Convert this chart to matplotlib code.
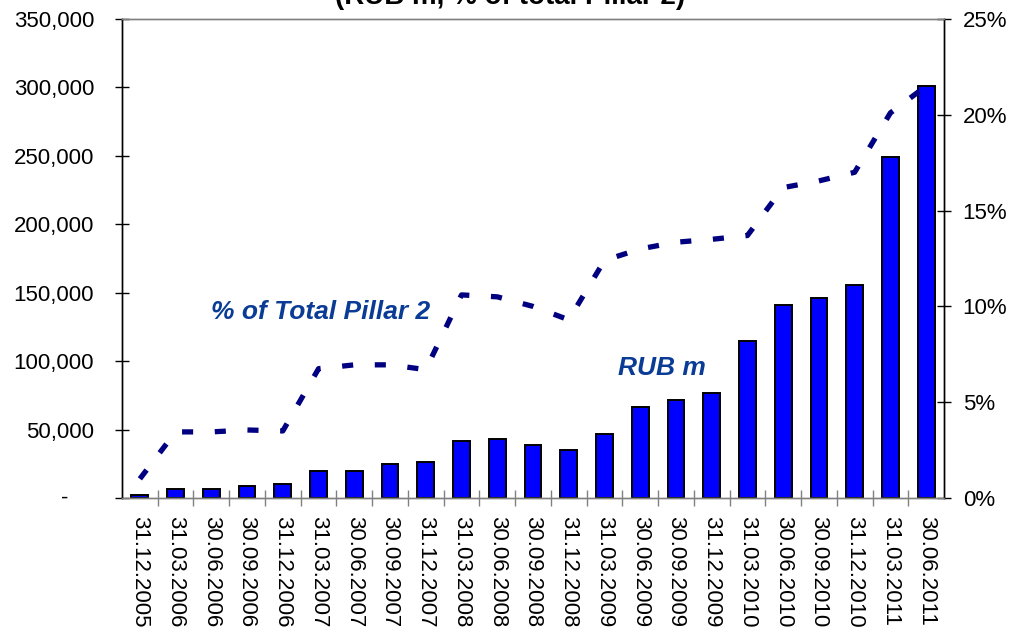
import matplotlib
matplotlib.use("Agg")
import matplotlib.pyplot as plt
from matplotlib.ticker import FuncFormatter, FixedLocator

plt.rcParams["font.family"] = ["Liberation Sans", "DejaVu Sans"]

# ------------------------------------------------------------------
# Data
# ------------------------------------------------------------------
dates = [
    "31.12.2005", "31.03.2006", "30.06.2006", "30.09.2006", "31.12.2006",
    "31.03.2007", "30.06.2007", "30.09.2007", "31.12.2007", "31.03.2008",
    "30.06.2008", "30.09.2008", "31.12.2008", "31.03.2009", "30.06.2009",
    "30.09.2009", "31.12.2009", "31.03.2010", "30.06.2010", "30.09.2010",
    "31.12.2010", "31.03.2011", "30.06.2011",
]
rub_m = [
    2500, 6300, 6300, 8800, 10000,
    19500, 19500, 24600, 26100, 41400,
    43100, 38700, 35100, 46800, 66700,
    71600, 77000, 114700, 141000, 146400,
    155400, 248900, 301300,
]
pct_pillar2 = [
    1.0, 3.45, 3.45, 3.55, 3.5,
    6.75, 6.95, 6.95, 6.7, 10.6,
    10.5, 10.0, 9.3, 12.4, 13.0,
    13.35, 13.5, 13.7, 16.2, 16.55,
    17.0, 20.1, 21.5,
]

NAVY = "#000080"
LABEL_BLUE = "#0A3C96"
GREY = "#808080"

fig = plt.figure(figsize=(10.1, 6.35), dpi=100)
ax = fig.add_axes([122 / 1010, 1 - 498 / 635, 822 / 1010, 479 / 635])
ax2 = ax.twinx()

x = list(range(len(dates)))

# bars (left axis)
ax.bar(x, rub_m, width=0.47, color="#0000FF", edgecolor="black", linewidth=1.4, zorder=2)
ax.set_xlim(-0.5, len(dates) - 0.5)
ax.set_ylim(0, 350000)
ax.set_yticks(range(0, 350001, 50000))
ax.yaxis.set_major_formatter(FuncFormatter(lambda v, p: "" if v == 0 else f"{int(v):,}"))
ax.text(-0.07, 0, "-", transform=ax.get_yaxis_transform(), ha="center", va="center",
        fontsize=16)

# line (right axis)
ax2.plot(x, pct_pillar2, color=NAVY, linewidth=3.8, linestyle=(0, (2.1, 4.1)),
         dash_capstyle="butt", solid_capstyle="butt", zorder=3)
ax2.set_ylim(0, 25)
ax2.set_yticks(range(0, 26, 5))
ax2.yaxis.set_major_formatter(FuncFormatter(lambda v, p: f"{int(v)}%"))

# x ticks: labels at centres, tick marks at category boundaries
ax.set_xticks(x)
ax.set_xticklabels(dates, rotation=-90, fontsize=16)
ax.tick_params(axis="x", which="major", length=0, pad=13)
ax.xaxis.set_minor_locator(FixedLocator([i + 0.5 for i in range(len(dates) - 1)]))
ax.tick_params(axis="x", which="minor", direction="inout", length=11, width=1, color=GREY)

ax.tick_params(axis="y", direction="inout", length=10, width=1, labelsize=16, pad=15)
ax2.tick_params(axis="y", direction="inout", length=10, width=1, labelsize=16, pad=8.5)

for a in (ax, ax2):
    a.spines["left"].set_color("black")
    a.spines["right"].set_color("black")
    a.spines["top"].set_color(GREY)
    a.spines["bottom"].set_color(GREY)
    for s in a.spines.values():
        s.set_linewidth(1.0)
ax.spines["bottom"].set_zorder(5)

# series annotations
ax2.text(5.05, 9.7, "% of Total Pillar 2", color=LABEL_BLUE, fontsize=19,
         fontweight="bold", style="italic", ha="center", va="center")
ax2.text(14.6, 6.8, "RUB m", color=LABEL_BLUE, fontsize=19,
         fontweight="bold", style="italic", ha="center", va="center")

# title, mostly cut off at the top edge as in the source
fig.text(0.505, 1 - 4 / 635, "(RUB m, % of total Pillar 2)", ha="center", va="baseline",
         fontsize=20, fontweight="bold")

fig.savefig("out.png", dpi=100)
